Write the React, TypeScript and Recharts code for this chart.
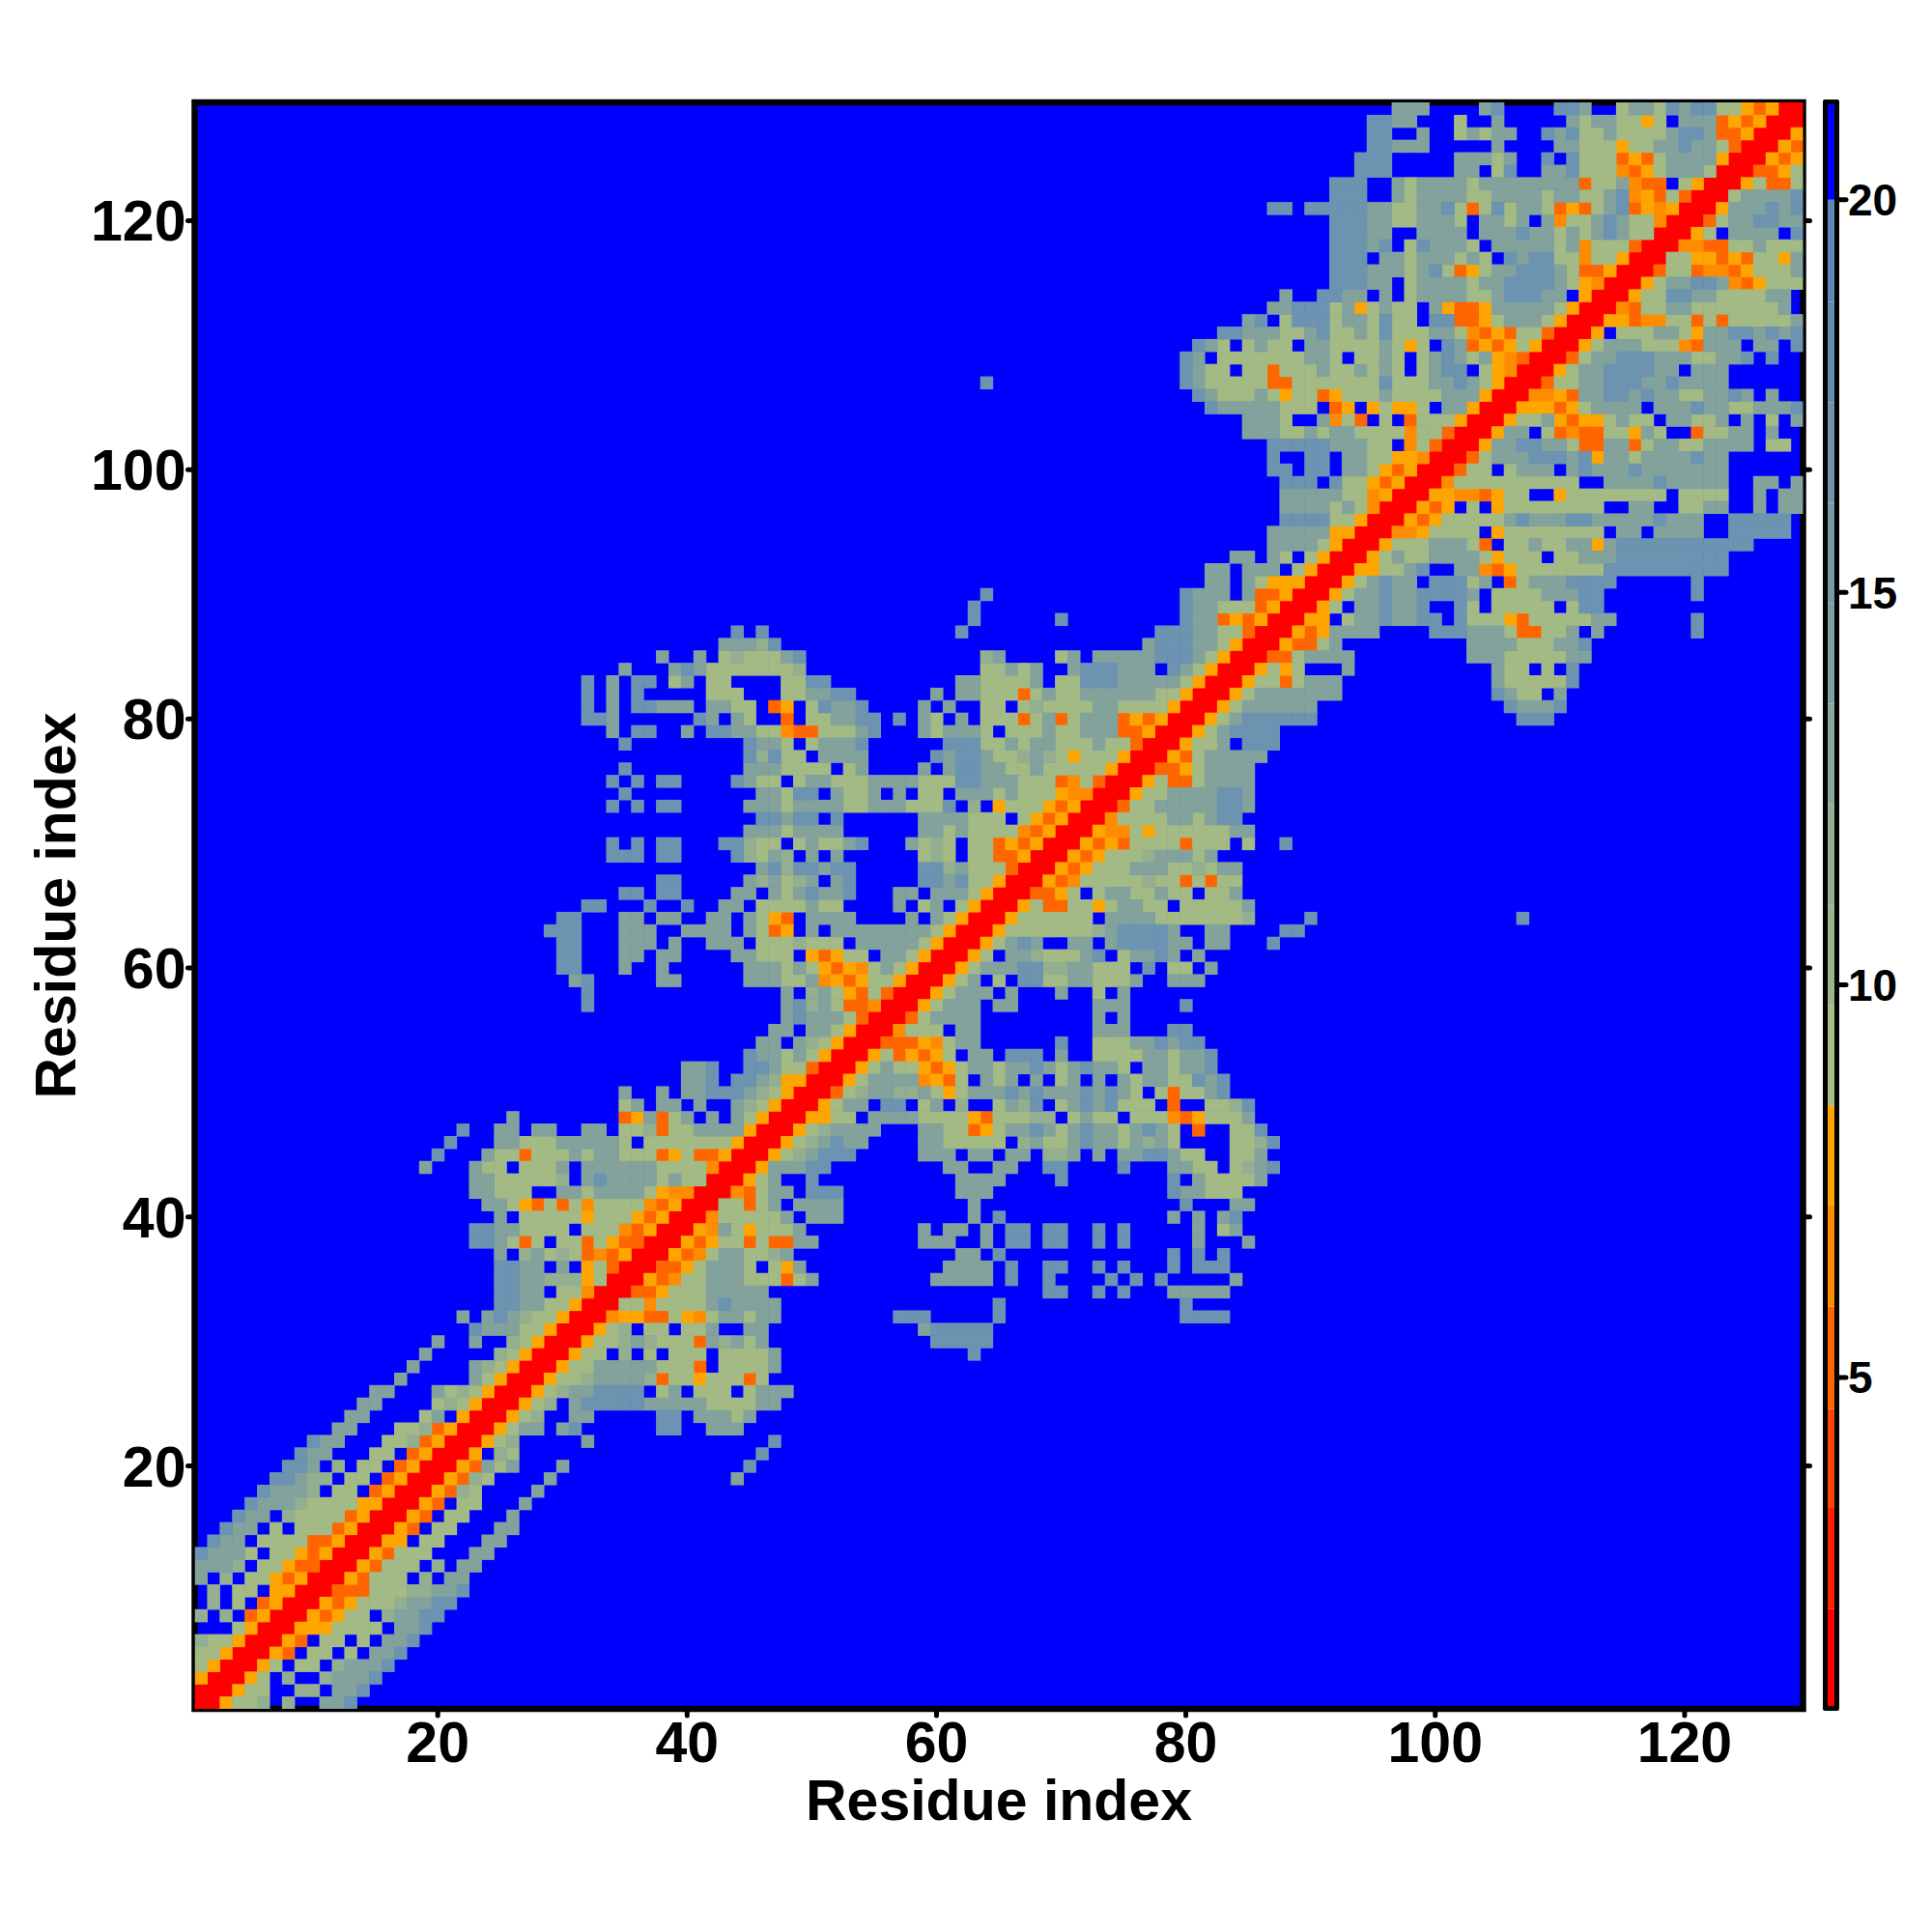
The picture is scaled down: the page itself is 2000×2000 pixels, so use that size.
import { ScatterChart, Scatter, XAxis, YAxis, ReferenceArea, BarChart, Bar } from 'recharts';

// distance map is symmetric, so only the half from the diagonal to the right is listed
// one entry per residue (y = index + 1), tokens are "x:codes", '.' keeps the background
const upperRows: string[] = [
  '1:RRYaab.b..ccd',
  '2:RRYaa..bb.ccd',
  '3:RRYa.b..bcccd',
  '4:RRYa.aa.bcccd',
  '5:RRYD.aa.a.ccd',
  '6:RRYD.aa.a.ccd',
  '7:RRYYYaaaa.ccd',
  '8:RRYDYaa.bccdd',
  '9:RRYDYaaabccdd',
  '10:RRDDDaaabbccd',
  '11:RRYDaaa.b.cc',
  '12:RRYDaaa.b.cc',
  '13:RRYDaaa...cc',
  '14:RRYY.aa...cc',
  '15:RRYD.aa...cc',
  '16:RRYD.aa...c',
  '17:RRYD.aa...c',
  '18:RRYDba....c',
  '19:RRYDba....c 44:c',
  '20:RRYDcac...c 45:d',
  '21:RRY.ba 46:d',
  '22:RRYab 32:c 47:d',
  '23:RRYacc.cd 38:dd 42:ccc',
  '24:RRYab..cc 38:dd 41:cccac',
  '25:RRYab.cdddddcccccaaaacc',
  '26:RRYabccdddd.ac.aaa.accc',
  '27:RRYaabccccbDaaYaaaDa',
  '28:RRYaacccccaaaD.aaaac',
  '29:RRYaa.b.a.aaa.aaaac 63:d',
  '30:RRYaabcbaaaDcbcac 60:ddddd',
  '31:RRYab.aa.aac..cc 59:cddddd',
  '32:RROYYDDaYOaccacc 57:ddd 65:d 80:dddd',
  '33:RRaaOaaaacdcccc 65:d 80:d',
  '34:RRDDYaaaccccc 69:dd 73:d 75:d 79:ccccc',
  '35:RRYDOaacccaaaDac 60:ccccc 66:d 69:d 74:d 76:d 78:d 84:c',
  '36:RRDDYaccca.aYc 61:cccc 66:d 69:dd 73:d 75:d 79:d 81:ddd',
  '37:RRYDOaccaabc 62:cc 65:d 79:d 81:d 83:d',
  '38:RRYDYaaDaDDcc 59:ccc 64:c 66:dd 69:dd 73:d 75:d 81:c 85:c',
  '39:RRYOcaYaaac 59:c 61:cc 64:c 66:dd 69:dd 73:d 75:d 81:c 83:ac',
  '40:RROaaaaac.ccc 63:c 65:d 79:c 81:c 83:cd',
  '41:RRaaDac.cccc 63:c 80:d 84:cc',
  '42:RRODacc.ddd 62:ccc 79:dccaaa',
  '43:RRYac..d 62:cccc 70:d 79:d 81:caaaac',
  '44:RRYcccdd 61:cc 65:cc 69:dd 75:d 79:ccaa 84:abcd',
  '45:RRYabcddd 59:ccc 63:cc 66:cc 69:bb 71:c 73:c 75:ccddcaa 84:aac',
  '46:RRYabcdcc 59:ccaaaaa 67:bcaacdccacbca 84:aabd',
  '47:RRYabcccc 59:ccaaDYaccdcacdccacdca.D..aad',
  '48:RRYYaa. 55:ccccaaaaYDaaabb.acaa.aaaODYaaac',
  '49:RRYacc 55:.dd.ac.b..acbd.acdcdaaa.D..aabd',
  '50:RRDab 55:ccbbcaYacccdcdcccdcdca.aDaacd',
  '51:RRYa 55:ccccOYDa.cac.c.ac.c.caccaadcd',
  '52:RRY 55:acaaYDYaccaccdcacdcca.ccaccd',
  '53:RR 55:YaDYDYa.cc.ddd.c..aaaaccaccd',
  '54:RR 56:DDDYOacc 70:d 73:aaaccdcdd',
  '55:RROaaa.cc 73:ccc 79:dd',
  '56:RRDacccc 73:c 75:c',
  '57:RRYaccc.cc 73:ccc 80:d',
  '58:RRYaccc.c 70:c 73:a 75:c',
  '59:RRYac.a.ddaaccaaac 79:ccc',
  '60:RRYacccddbbccaaa.d 79:aa 82:c',
  '61:RRYa.ccbaaacd.accdc.c',
  '62:RRYacdc..cc.cddddcc.cc 87:d',
  '63:RRYaaaaaaabcddddc..cc 88:dd',
  '64:RRYaaaaaa.ccccaaaaaaab 90:d 107:d',
  '65:RRYaDDaaYaccaa.aaaaac',
  '66:RRDDYa.accaacaa.aac',
  '67:RRYDOaaaaabaaDaDaa',
  '68:RRYDYaaacccaabacc',
  '69:RRYDYaaabcccac',
  '70:RRYDYDaaaaDaaa.a 88:d',
  '71:RRYOOaYaaaaaacc',
  '72:RROaaaaccacdd',
  '73:RRDaacccccddc',
  '74:RRYaaccccddc',
  '75:RRYaDDacccc',
  '76:RRDDYacccc',
  '77:RRYDaccccc',
  '78:RRYaac.ddd',
  '79:RRYacdddd',
  '80:RRYacdddddd 107:ddd',
  '81:RRYacccccc 106:dcccd',
  '82:RRYaccccccc 105:dcaa.c',
  '83:RRYaaDaccc 105:caaaaad',
  '84:RRYaYa...c 105:caa.a.d',
  '85:RRDDacccc 103:cccaaaaacc',
  '86:RRYDDac 103:ccccaaaccd',
  '87:RRYDYcccc 100:ddd 103:cccaDDaac.c 121:d',
  '88:RRYY.accdccdd.daaaYDaaaaacc 121:d',
  '89:RRYa.ccdccd..da.aaaaa.add',
  '90:RRYaccdccddddc.aaaacccdd 121:d',
  '91:RRYacdcc.dddac.Dacccdddd 121:d',
  '92:RRYYaacd..ccODYaaaaaaadddddddddd',
  '93:RRYacaaccccaYaaa.aacccddddddddd',
  '94:RRYaaacccaD.aacaaccYcddddddddddd',
  '95:RROOYaaaa.Yaaaaaaaa.cc.cccc..ddddd',
  '96:RRYDYaaaaacdcccddcccccdccc..ddddd',
  '97:RRYDY.a.Yaaaaaaaa..cc..aacc..c.cc',
  '98:RRYYOODYaa..Yaaaaaaaa.aaaa..c.cc',
  '99:RROaaaaaaaaaa..ccccdccccc..cc.c',
  '100:RRDaa.accc.cdcccdccccccc',
  '101:RRDacccdddcdYccaccccdcc',
  '102:RRYccddccaDDccDaccaacccc.aa',
  '103:RRYcc.aDODDaaYca..Daacc.c',
  '104:RRYaacYDYYacaa.ccaac.c.a.c',
  '105:RRYYYDYacccc.cccdccaacccd',
  '106:RROOYDccddcdccaaccdc.c',
  '107:RRDaaccdddccdcccc',
  '108:RRYaccddddcc.ccc',
  '109:RRDaccdddcccaaccd.d',
  '110:RRYacccaaaODccc.cc.d',
  '111:RRY.aaaccaYccddcdcd',
  '112:RRYYDOOaaDaDaaaaac',
  '113:RRODaaccaaaaaaac',
  '114:RRYaaddccaaaacc',
  '115:RRYaccddcODYaaa',
  '116:RRDaaDOODYaaac',
  '117:RRaaYYDYDaaYc',
  '118:RROODDaacaaa',
  '119:RRYa.cccc.d',
  '120:RRDaccddcc',
  '121:RRYcccdcd',
  '122:RRaccccd',
  '123:RRYaDDa',
  '124:RRDDYa',
  '125:RRYDY',
  '126:RRYD',
  '127:RRY',
  '128:RR',
  '129:R',
];

const cellColors: Record<string, string> = {
  R: '#ff0000',
  D: '#ff6600',
  O: '#ff8c00',
  Y: '#ffa500',
  a: '#a3ba85',
  b: '#94af8f',
  c: '#83a29c',
  d: '#6c93b0',
};

const residueTicks = [20, 40, 60, 80, 100, 120];

const legendBreaks = [0.78, 2.05, 3.34, 4.6, 5.9, 7.2, 8.46, 9.74, 11.02, 12.3, 13.58, 14.86, 16.14, 17.42, 18.7, 20, 21.24];
const legendColors = [
  '#ff0000', '#ff2000', '#ff4500', '#ff6600', '#ff8c00', '#ffa500',
  '#a8bd87', '#9db58c', '#93ae92', '#89a798', '#7fa09e', '#7699a4', '#6e93aa', '#668db0', '#5f88b8',
  '#0000ff',
];
const legendTicks = [5, 10, 15, 20];

const PLOT_W = 1665;
const CELL = PLOT_W / 129;

type Pt = { x: number; y: number };

function buildCells() {
  const byCode: Record<string, Pt[]> = {};
  Object.keys(cellColors).forEach(k => { byCode[k] = []; });
  upperRows.forEach((row, i) => {
    const y = i + 1;
    row.split(' ').forEach(token => {
      const [start, codes] = token.split(':');
      [...codes].forEach((code, j) => {
        if (code === '.') return;
        const x = Number(start) + j;
        byCode[code].push({ x, y });
        if (x !== y) byCode[code].push({ x: y, y: x });
      });
    });
  });
  return byCode;
}

const cells = buildCells();

const legendRow: Record<string, number | string> = { name: 'scale', base: legendBreaks[0] };
legendColors.forEach((_, i) => { legendRow[`s${i}`] = legendBreaks[i + 1] - legendBreaks[i]; });
const legendDomain = [legendBreaks[0], legendBreaks[legendBreaks.length - 1]];

const tickMark = { stroke: '#000', strokeWidth: 5, strokeLinecap: 'round' as const };
const font = 'Liberation Sans';
const bigTick = { fill: '#000', fontSize: 59, fontWeight: 700, fontFamily: font };
const titleStyle = { fill: '#000', fontSize: 59, fontWeight: 700, fontFamily: font };

const CellRect = (props: any) => {
  return <rect x={props.cx - CELL / 2} y={props.cy - CELL / 2} width={CELL + 0.6} height={CELL + 0.6} fill={props.fill} />;
};

export default function App() {
  return (
    <div style={{ position: 'absolute', left: 0, top: 0, width: 2000, height: 2000, background: '#fff' }}>
      <div style={{ position: 'absolute', left: 0, top: 0 }}>
        <ScatterChart width={1890} height={1950} margin={{ top: 86, right: 0, bottom: 0, left: 0 }}>
          <XAxis
            type="number" dataKey="x" domain={[0.5, 129.5]} ticks={residueTicks} interval={0} allowDataOverflow
            height={181} tickSize={7} tickMargin={6} axisLine={false} tickLine={tickMark} tick={bigTick}
            label={{ value: 'Residue index', position: 'insideBottom', offset: 66, style: titleStyle }}
          />
          <XAxis
            xAxisId="top" orientation="top" type="number" domain={[0.5, 129.5]} ticks={residueTicks} interval={0}
            height={20} tickSize={7} axisLine={false} tickLine={tickMark} tickFormatter={() => ''} allowDataOverflow
          />
          <YAxis
            type="number" dataKey="y" domain={[0.5, 129.5]} ticks={residueTicks} interval={0} allowDataOverflow
            width={201.5} tickSize={7} tickMargin={2} axisLine={false} tickLine={tickMark} tick={bigTick}
            label={{ value: 'Residue index', angle: -90, position: 'insideLeft', offset: 57, style: { ...titleStyle, textAnchor: 'middle' } }}
          />
          <YAxis
            yAxisId="right" orientation="right" type="number" domain={[0.5, 129.5]} ticks={residueTicks} interval={0}
            width={23.5} tickSize={7} axisLine={false} tickLine={tickMark} tickFormatter={() => ''} allowDataOverflow
          />
          <ReferenceArea x1={0.5} x2={129.5} y1={0.5} y2={129.5} fill="#0000ff" fillOpacity={1} stroke="none" />
          {Object.keys(cellColors).map(code => (
            <Scatter key={code} data={cells[code]} fill={cellColors[code]} shape={CellRect} isAnimationActive={false} />
          ))}
          <ReferenceArea x1={0.5} x2={129.5} y1={0.5} y2={129.5} fill="none" stroke="#000" strokeWidth={6.5} />
        </ScatterChart>
      </div>
      <div style={{ position: 'absolute', left: 1889.5, top: 0 }}>
        <BarChart
          width={110} height={1950} data={[legendRow]} barCategoryGap={0}
          margin={{ top: 106, right: 0, bottom: 0, left: 0 }}
        >
          <XAxis dataKey="name" height={181} tick={false} tickLine={false} axisLine={false} />
          <YAxis
            orientation="right" type="number" width={98} allowDataOverflow
            domain={legendDomain} ticks={legendTicks} interval={0}
            tickSize={9} tickMargin={2} axisLine={false} tickLine={tickMark}
            tick={{ fill: '#000', fontSize: 46, fontWeight: 700, fontFamily: font }}
          />
          <Bar dataKey="base" stackId="k" fill="none" isAnimationActive={false} />
          {legendColors.map((c, i) => (
            <Bar key={i} dataKey={`s${i}`} stackId="k" fill={c} isAnimationActive={false} />
          ))}
        </BarChart>
      </div>
      {/* bar scale outline, sits on the plot box of the chart above */}
      <div
        style={{
          position: 'absolute', left: 1886.7, top: 103, width: 7.3, height: 1658,
          border: '5px solid #000', borderRadius: 2, pointerEvents: 'none',
        }}
      />
    </div>
  );
}
